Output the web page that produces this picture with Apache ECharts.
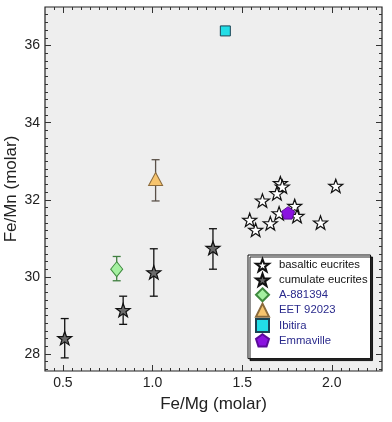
<!DOCTYPE html>
<html><head><meta charset="utf-8">
<script src="https://cdn.jsdelivr.net/npm/echarts@6/dist/echarts.min.js"></script>
<style>html,body{margin:0;padding:0;background:#fff}#c{width:392px;height:422px}</style>
</head><body><div id="c"></div>
<script>
// ---- data ----
const basalticX = [1.713, 1.724, 1.694, 1.613, 2.022, 1.793, 1.706, 1.806, 1.542, 1.575, 1.657, 1.937];
const basalticY = [32.43, 32.34, 32.17, 31.98, 32.36, 31.84, 31.65, 31.58, 31.48, 31.22, 31.39, 31.41];
const cumulateX = [0.51, 0.836, 1.007, 1.337];
const cumulateY = [28.41, 29.14, 30.12, 30.75];
const cumulateLo = [27.9, 28.77, 29.5, 30.2];
const cumulateHi = [28.92, 29.5, 30.73, 31.25];
const a881394X = [0.80];
const a881394Y = [30.2];
const a881394Lo = [29.9];
const a881394Hi = [30.53];
const eetX = [1.017];
const eetY = [32.54];
const eetLo = [31.97];
const eetHi = [33.04];
const ibitiraX = [1.406];
const ibitiraY = [36.38];
const emmavilleX = [1.756];
const emmavilleY = [31.66];
const xTickLabels = [0.5, 1.0, 1.5, 2.0];
const yTickLabels = [28, 30, 32, 34, 36];
const legendNames = ['basaltic eucrites', 'cumulate eucrites', 'A-881394', 'EET 92023', 'Ibitira', 'Emmaville'];

// ---- axes setup ----
const X_MIN = 0.4, X_MAX = 2.28, Y_MIN = 27.56, Y_MAX = 37;
const xMinor = []; for (let i = 1; i * 0.05 + X_MIN < X_MAX; i++) xMinor.push(+(X_MIN + i * 0.05).toFixed(2));
const yMinor = []; for (let i = 0; i * 0.2 + 27.6 < Y_MAX; i++) yMinor.push(+(27.6 + i * 0.2).toFixed(1));
const FONT = '"Liberation Sans", Arial, sans-serif';

const STAR = 'path://M50 0 L61.76 33.82 L97.55 34.55 L69.02 56.18 L79.39 90.45 L50 70 L20.61 90.45 L30.98 56.18 L2.45 34.55 L38.24 33.82 Z';
const PENT = 'path://M50 0 L97.55 34.55 L79.39 90.45 L20.61 90.45 L2.45 34.55 Z';

function zip(a, b) { return a.map((v, i) => [v, b[i]]); }

function xAx(pos, vals, len, label) {
  return {
    type: 'value', min: X_MIN, max: X_MAX, position: pos, gridIndex: 0,
    axisLine: { show: false, onZero: false }, splitLine: { show: false },
    axisTick: { show: true, inside: true, length: len, customValues: vals, lineStyle: { color: '#333', width: 1 } },
    axisLabel: label ? { show: true, customValues: vals, formatter: v => v.toFixed(1), color: '#222', fontSize: 14, margin: 5, fontFamily: FONT } : { show: false },
    name: label ? 'Fe/Mg (molar)' : '', nameLocation: 'middle', nameGap: 25, nameMoveOverlap: false,
    nameTextStyle: { fontSize: 17, color: '#222', fontFamily: FONT }
  };
}
function yAx(pos, vals, len, label) {
  return {
    type: 'value', min: Y_MIN, max: Y_MAX, position: pos, gridIndex: 0,
    axisLine: { show: false, onZero: false }, splitLine: { show: false },
    axisTick: { show: true, inside: true, length: len, customValues: vals, lineStyle: { color: '#333', width: 1 } },
    axisLabel: label ? { show: true, customValues: vals, formatter: v => String(Math.round(v)), color: '#222', fontSize: 14, margin: 5, fontFamily: FONT } : { show: false },
    name: label ? 'Fe/Mn (molar)' : '', nameLocation: 'middle', nameGap: 25, nameMoveOverlap: false,
    nameTextStyle: { fontSize: 17, color: '#222', fontFamily: FONT }
  };
}

function errSeries(xs, lo, hi, color) {
  return {
    type: 'custom', xAxisIndex: 0, yAxisIndex: 0, silent: true, z: 1,
    data: xs.map((x, i) => [x, lo[i], hi[i]]),
    encode: { x: 0, y: [1, 2] },
    renderItem(params, api) {
      const x = api.value(0);
      const p1 = api.coord([x, api.value(1)]);
      const p2 = api.coord([x, api.value(2)]);
      const w = 4, st = { stroke: color, lineWidth: 1.3 };
      return { type: 'group', children: [
        { type: 'line', shape: { x1: p1[0], y1: p1[1], x2: p2[0], y2: p2[1] }, style: st },
        { type: 'line', shape: { x1: p1[0] - w, y1: p1[1], x2: p1[0] + w, y2: p1[1] }, style: st },
        { type: 'line', shape: { x1: p2[0] - w, y1: p2[1], x2: p2[0] + w, y2: p2[1] }, style: st }
      ] };
    }
  };
}

const chart = echarts.init(document.getElementById('c'), null, { renderer: 'canvas' });
chart.setOption({
  animation: false,
  textStyle: { fontFamily: FONT },
  grid: { left: 45, right: 10, top: 7, bottom: 51, containLabel: false, outerBoundsMode: 'none', show: true, backgroundColor: '#eeeeee', borderColor: '#222', borderWidth: 1.2 },
  xAxis: [xAx('bottom', xTickLabels, 6, true), xAx('bottom', xMinor, 3, false), xAx('top', xTickLabels, 6, false), xAx('top', xMinor, 3, false)],
  yAxis: [yAx('left', yTickLabels, 6, true), yAx('left', yMinor, 3, false), yAx('right', yTickLabels, 6, false), yAx('right', yMinor, 3, false)],
  legend: {
    orient: 'vertical', left: 248, top: 255,
    data: legendNames.map((n, i) => ({ name: n, textStyle: { color: i < 2 ? '#111' : '#2a2a8c' } })),
    itemWidth: 13, itemHeight: 13, itemGap: 0.3,
    padding: [3, 3, 11, 7],
    backgroundColor: '#ffffff', borderColor: '#111', borderWidth: 1,
    shadowColor: 'rgba(0,0,0,0.85)', shadowOffsetX: 2, shadowOffsetY: 2, shadowBlur: 0,
    textStyle: { fontSize: 11.3, lineHeight: 13, fontFamily: FONT, padding: [0, 0, 0, 5] },
    selectedMode: false
  },
  series: [
    errSeries(cumulateX, cumulateLo, cumulateHi, '#111'),
    errSeries(a881394X, a881394Lo, a881394Hi, '#3f7f3f'),
    errSeries(eetX, eetLo, eetHi, '#5a5048'),
    { name: 'basaltic eucrites', type: 'scatter', z: 3, data: zip(basalticX, basalticY), symbol: STAR, symbolKeepAspect: true, symbolSize: 14,
      itemStyle: { color: '#ffffff', borderColor: '#111', borderWidth: 1.2, opacity: 1 } },
    { name: 'cumulate eucrites', type: 'scatter', z: 3, data: zip(cumulateX, cumulateY), symbol: STAR, symbolKeepAspect: true, symbolSize: 14,
      itemStyle: { color: '#6a6a6a', borderColor: '#111', borderWidth: 1.2, opacity: 1 } },
    { name: 'A-881394', type: 'scatter', z: 3, data: zip(a881394X, a881394Y), symbol: 'diamond', symbolSize: [12, 15],
      itemStyle: { color: '#a4f0a0', borderColor: '#3f8a3f', borderWidth: 1, opacity: 1 } },
    { name: 'EET 92023', type: 'scatter', z: 3, data: zip(eetX, eetY), symbol: 'triangle', symbolSize: [14, 13],
      itemStyle: { color: '#f6c46e', borderColor: '#8a6a3c', borderWidth: 1, opacity: 1 } },
    { name: 'Ibitira', type: 'scatter', z: 3, data: zip(ibitiraX, ibitiraY), symbol: 'rect', symbolSize: 10,
      itemStyle: { color: '#22dde6', borderColor: '#1a4455', borderWidth: 1, opacity: 1 } },
    { name: 'Emmaville', type: 'scatter', z: 4, data: zip(emmavilleX, emmavilleY), symbol: PENT, symbolKeepAspect: true, symbolSize: 13,
      itemStyle: { color: '#8a12e0', borderColor: '#5a0a9a', borderWidth: 1, opacity: 1 } }
  ]
});
</script></body></html>
